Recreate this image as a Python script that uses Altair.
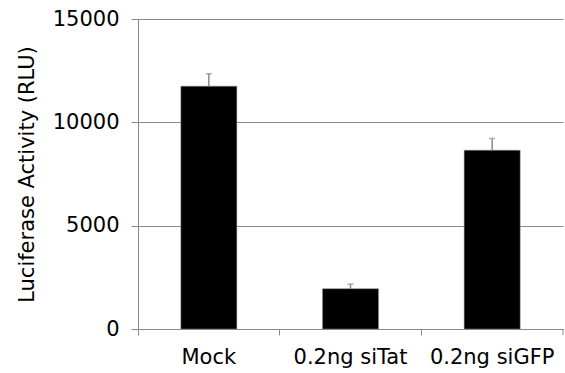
import altair as alt
import pandas as pd

categories = ["Mock", "0.2ng siTat", "0.2ng siGFP"]
values = [11750, 1950, 8650]
errors = [600, 220, 570]

df = pd.DataFrame({"cat": categories, "val": values, "err": errors})
df["top"] = df["val"] + df["err"]

FONT = "DejaVu Sans"
GRAY = "#8a8a8a"
FS = 21

x_enc = alt.X(
    "cat:N",
    sort=categories,
    scale=alt.Scale(paddingInner=0, paddingOuter=0),
    axis=alt.Axis(
        title=None,
        labelAngle=0,
        labelFont=FONT,
        labelFontSize=FS,
        labelColor="#000000",
        labelPadding=11,
        tickSize=6,
        tickColor=GRAY,
        domainColor=GRAY,
        bandPosition=0,
        grid=False,
    ),
)

y_scale = alt.Scale(domain=[0, 15000], nice=False)
y_enc = alt.Y(
    "val:Q",
    scale=y_scale,
    axis=alt.Axis(
        title="Luciferase Activity (RLU)",
        values=[0, 5000, 10000, 15000],
        format="d",
        labelFont=FONT,
        labelFontSize=FS,
        labelColor="#000000",
        labelPadding=12,
        tickSize=7,
        tickColor=GRAY,
        domainColor=GRAY,
        grid=True,
        gridColor=GRAY,
        gridOpacity=1,
        titleFont=FONT,
        titleFontSize=FS,
        titleFontWeight="normal",
        titleColor="#000000",
        titlePadding=15,
    ),
)

base = alt.Chart(df)

bars = base.mark_bar(color="black", size=56, stroke=GRAY, strokeWidth=0.5).encode(
    x=x_enc, y=y_enc
)

err_line = base.mark_rule(color=GRAY, strokeWidth=1.5).encode(
    x=alt.X("cat:N", sort=categories),
    y=alt.Y("val:Q", scale=y_scale),
    y2="top:Q",
)

caps = base.mark_tick(color=GRAY, orient="horizontal", size=6, thickness=1.5).encode(
    x=alt.X("cat:N", sort=categories),
    y=alt.Y("top:Q", scale=y_scale),
)

end_tick = alt.Chart(pd.DataFrame({"a": [0]})).mark_rule(color=GRAY, strokeWidth=1).encode(
    x=alt.value(425), y=alt.value(310), y2=alt.value(316)
)

chart = (
    alt.layer(bars, err_line, caps, end_tick)
    .properties(
        width=425,
        height=310,
        autosize=alt.AutoSizeParams(type="none"),
        padding={"left": 138, "top": 19, "right": 2, "bottom": 44},
        background="white",
    )
    .configure_view(stroke=None)
)

chart.save("out.html", embed_options={"renderer": "svg", "actions": False})
